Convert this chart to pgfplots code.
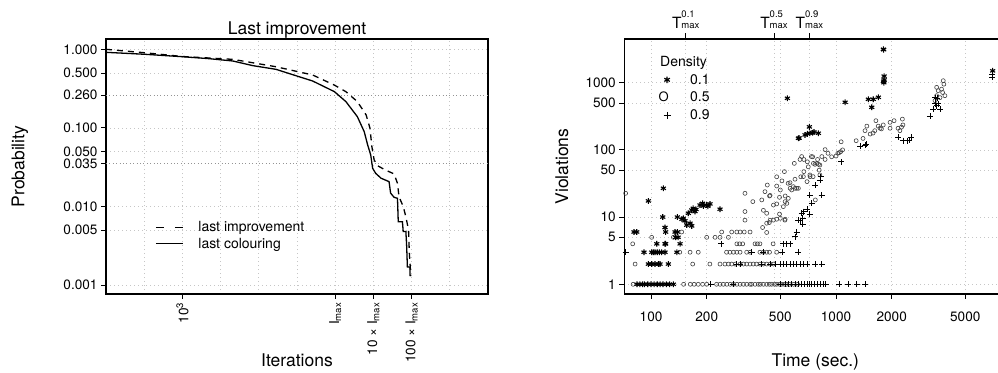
\documentclass[border=0pt]{standalone}
\usepackage{pgfplots}
\pgfplotsset{compat=1.18}
\usepackage{fontspec}
\setmainfont{TeX Gyre Heros}

\newcommand{\ticksize}{\fontsize{13.6}{15}\selectfont}
\newcommand{\labsize}{\fontsize{17.5}{20}\selectfont}
\newcommand{\legsize}{\fontsize{14}{16}\selectfont}
% T with its quantile stacked over the "max" index
\newcommand{\Tmax}[1]{{\fontsize{15.5}{16}\selectfont T}{\fontsize{9.5}{11}\selectfont\begin{tabular}[b]{@{}l@{}}#1\\max\end{tabular}}}

\tikzset{darkgrid/.style={gray!85, line width=0.8pt, dash pattern=on 0.8pt off 2.6pt}}

\pgfplotsset{
  panel/.style={
    scale only axis, width=382pt, height=255pt, anchor=south west,
    axis line style={line width=1.1pt},
    tick align=outside, major tick length=5pt,
    tick style={black, line width=0.8pt},
    tick label style={font=\ticksize},
    /pgf/number format/assume math mode=true,
    grid style={gray!45, line width=0.7pt, dash pattern=on 0.8pt off 3.2pt},
    every axis title/.style={at={(axis description cs:0.5,1.0184)}, anchor=base, font=\labsize},
    every axis x label/.style={at={(axis description cs:0.5,-0.2824)}, anchor=base, font=\labsize},
  },
}

\begin{document}
\begin{tikzpicture}
\useasboundingbox (0pt,0pt) rectangle (998pt,372pt);

% ---------------- left panel: survival of the last improvement ----------------
\begin{axis}[panel, tick pos=left,
  at={(106pt,78pt)},
  xmode=log, ymode=log,
  xmin=1e1, xmax=1e11, ymin=7.7e-4, ymax=1.352,
  xtick={1e3,1e7,1e8,1e9},
  xticklabels={10\textsuperscript{3}, I\textsubscript{max}, 10 × I\textsubscript{max}, 100 × I\textsubscript{max}},
  xticklabel style={rotate=90, anchor=east},
  minor xtick={1e2,1e4,1e5,1e6,1e10},
  minor tick length=0pt,
  xmajorgrids, xminorgrids, ymajorgrids,
  ytick={0.001,0.005,0.01,0.05,0.1,0.5,1},
  yticklabels={0.001,0.005,0.010,0.050,0.100,0.500,1.000},
  extra y ticks={0.035,0.26},
  extra y tick labels={0.035,0.260},
  extra y tick style={ymajorgrids=true, major grid style={darkgrid}},
  title={Last improvement},
  xlabel={Iterations},
  ylabel={Probability},
  every axis y label/.style={at={(axis description cs:-0.2134,0.5)}, rotate=90, anchor=base, font=\labsize},
  legend image code/.code={\draw[#1] (0pt,0pt) -- (27pt,0pt);},
  legend cell align=left,
  legend style={at={(axis description cs:0.1283,0.293)}, anchor=north west,
    draw=none, fill=none, inner sep=0pt, column sep=13pt, row sep=0.6pt,
    font=\legsize, cells={anchor=west}},
]
\addlegendimage{black, line width=1.2pt, dash pattern=on 8pt off 11pt}
\addlegendentry{last improvement}
\addlegendimage{black, line width=1.2pt}
\addlegendentry{last colouring}

% last improvement
\addplot[forget plot, black, line width=1.3pt, dash pattern=on 6pt off 5pt] coordinates {
  (1e1,1.0) (1e2,0.905) (1e3,0.81) (2.09e4,0.745) (2.82e5,0.60) (2.57e6,0.471)
  (9.55e6,0.35) (1.905e7,0.289) (3.80e7,0.216) (6.46e7,0.146) (8.13e7,0.099)
  (9.12e7,0.0577) (1.047e8,0.039) (1.288e8,0.033) (2.09e8,0.029) (3.47e8,0.026)
  (4.27e8,0.0197) (4.68e8,0.0133) (6.03e8,0.010) (7.08e8,0.0074) (8.32e8,0.005)
  (8.71e8,0.0026) (9.55e8,0.0013)
};
% last colouring
\addplot[forget plot, black, line width=1.3pt] coordinates {
  (1e1,0.915) (1e2,0.865) (1e3,0.805) (5.0e3,0.76) (2.09e4,0.71) (6.92e4,0.62)
  (2.82e5,0.556) (7.76e5,0.475) (2.57e6,0.395) (9.55e6,0.289) (1.905e7,0.216)
  (3.80e7,0.139) (5.75e7,0.0895) (7.08e7,0.0606) (8.51e7,0.0452) (9.55e7,0.0306)
  (1.148e8,0.0264) (1.585e8,0.0229) (2.57e8,0.0207) (2.82e8,0.0148) (3.47e8,0.0131)
  (4.27e8,0.0127) (4.47e8,0.0064) (5.75e8,0.0064) (6.03e8,0.0048) (7.08e8,0.0048)
  (7.41e8,0.0032) (7.76e8,0.0017) (9.12e8,0.0017) (9.12e8,0.0013)
};
\end{axis}

% ---------------- right panel: top axis with the time limits ----------------
\begin{axis}[panel,
  at={(624.3pt,78pt)},
  xmode=log, ymode=log,
  xmin=71.7, xmax=8330, ymin=0.717, ymax=4467,
  axis x line*=top, axis y line=none,
  xtick pos=right, xticklabel pos=right,
  xtick={154,462,718},
  xticklabels={\Tmax{0.1}, \Tmax{0.5}, \Tmax{0.9}},
  xticklabel style={anchor=south, inner sep=1pt},
  major tick length=6pt,
  xmajorgrids,
]
\addplot[draw=none, forget plot] coordinates {(100,1)};
\end{axis}

% ---------------- right panel: violations against time ----------------
\begin{axis}[panel, tick pos=left,
  at={(624.3pt,78pt)},
  xmode=log, ymode=log,
  xmin=71.7, xmax=8330, ymin=0.717, ymax=4467,
  xtick={100,200,500,1000,2000,5000},
  xticklabels={100,200,500,1000,2000,5000},
  xticklabel shift=9pt,
  ytick={1,5,10,50,100,500,1000},
  yticklabels={1,5,10,50,100,500,1000},
  grid=major,
  xlabel={Time (sec.)},
  ylabel={Violations},
  every axis y label/.style={at={(axis description cs:-0.1474,0.5)}, rotate=90, anchor=base, font=\labsize},
  legend cell align=left,
  legend style={at={(axis description cs:0.0896,0.871)}, anchor=north west,
    draw=none, fill=none, inner sep=0pt, column sep=17.5pt, row sep=2.4pt,
    font=\legsize},
]
\addlegendimage{only marks, black, mark=asterisk, mark size=3.2pt, line width=1.2pt}
\addlegendentry{0.1}
\addlegendimage{legend image code/.code={\node[inner sep=0pt, font=\fontsize{13}{13}\selectfont] at (0pt,0pt) {O};}}
\addlegendentry{0.5}
\addlegendimage{only marks, black, mark=+, mark size=3.5pt, line width=1pt}
\addlegendentry{0.9}

% density 0.5
\addplot[forget plot, only marks, mark=o, mark size=2pt, black!75, line width=0.6pt] coordinates {
  (80,1)(150,1)(163,1)(171,1)(180,1)(190,1)(200,1)(226,1)(236,1)(246,1)(257,1)(268,1)
  (279,1)(291,1)(303,1)(316,1)(329,1)(343,1)(350,1)(365,1)(380,1)(390,1)(405,1)(422,1)
  (436,1)(449,1)(465,1)(478,1)(495,1)(509,1)(525,1)(541,1)(560,1)(590,1)(620,1)
  (82,2)(168,2)(208,2)(236,2)(251,2)(262,2)(273,2)(285,2)(303,2)(316,2)(329,2)(343,2)
  (357,2)(372,2)(388,2)(405,2)(422,2)(440,2)(459,2)
  (143,3)(162.6,3)(180,3)(256,3)(267,3)(279,3)(291,3)(303,3)(329,3)(343,3)(388,3)
  (405,3)(422,3)(437,3)(478,3)
  (79.6,4)(291,4)(301,4)(313,4)(365,4)(376,4)(388,4)(457,4)
  (100.8,5)(132,5)(200,5)(222,5)(236,5)(262,5)
  (146.5,6)(241,6)(273,6)(291,6)(303,6)(319,6)(343,6)(422,5.9)
  (401,7)(422,8.1)(436,8.3)(440,9)(459,9)(478,9.3)(500,9.6)(531,9.3)(529,9)
  (322,9)(322,12.1)(405,12.6)(422,11.4)(495,11.1)(519,14.3)(478,15.7)(459,15.1)
  (531,17)(355,17)(397,18)(322,22.6)(413,23.9)(425,30)(478,29)(495,19.7)(510,34.6)
  (478,39.8)(526,47.5)(500,25.3)(531,20.6)(552,19)(564,32.5)(576,25.3)(595,63)
  (600,36.6)(626,26.8)(613,26.8)(600,26.8)(639,72)(645,39.8)(670,47.5)(670,72)
  (700,66.5)(722,42.4)(724,40)(748,79)(755,63)(770,61)(789,63)(795,72)(804,61)
  (818,59.5)(818,42.4)(811,50)(838,79.6)(873,72)(873,101)(905,89)(947,79)(1000,81)
  (1023,89)(1040,91)(1060,94)(1085,100)(1066,132)(773,18)(437,20.6)(440,21)(542,16)
  (72.9,22.6)(565,26.8)(708,56)(736,79.6)(652,79.6)(588,28.4)(551,31.8)(666,40)
  (697,33.7)(752,40)
  (1285,137)(1400,148)(1435,193)(1468,226)(1530,172)(1585,178)(1620,193)(1643,272)
  (1690,226)(1730,210)(1760,205)(1800,235)(1960,210)(1960,257)(2060,272)(2165,210)
  (2215,193)(2260,218)(2285,287)(2300,235)
  (3500,853)(3570,760)(3720,800)(3800,1070)(3830,950)(3880,640)(3650,600)(3500,640)
  (3430,540)(3770,715)
};
% density 0.9
\addplot[forget plot, only marks, mark=+, mark size=3pt, black, line width=0.75pt] coordinates {
  (210,1)(279,1)(500,1)(530,1)(550,1)(575,1)(600,1)(625,1)(650,1)(675,1)(700,1)(720,1)
  (740,1)(760,1)(790,1)(820,1)(850,1)(880,1)(1043,1)(1166,1)(1294,1)(1434,1)
  (291,2)(303,2)(397,2)(440,2)(468,2)(500,2)(518,2)(541,2)(564,2)(588,2)(613,2)(639,2)
  (670,2)(700,2)(773,2)(836,2)
  (73,3)(350,3)(405,3)(510,3)(626,3)
  (239,4)(518,4)(541,4)(564,4)
  (600,5.1)(613,5.9)
  (626,9)(639,8.8)(653,11.4)(660,9.6)(660,7.9)(670,12.1)(700,13.1)(722,11.1)(740,16)
  (722,21.3)(773,30)(818,35.7)(825,39.8)(836,21.3)(1070,66.5)
  (1350,113)(1435,118)(1455,122)
  (2165,154)(2300,137)(2440,137)(2545,154)(2480,140)
  (3220,316)(3360,405)(3430,485)(3500,455)(3650,405)(3430,600)(3530,585)(3570,485)
  (7000,1350)(7000,1200)
};
% density 0.1
\addplot[forget plot, only marks, mark=asterisk, mark size=2.9pt, black, line width=1.1pt] coordinates {
  (84,1)(87,1)(90,1)(92,1)(96,1)(100,1)(104,1)(108,1)(112,1)(116,1)(121,1)(126,1)(132,1)
  (96.7,2)(100.9,2)(105,2)(109.5,2)(111.8,2)(124,2)
  (91.6,3)(100.9,3)(103,3)(105,3)(108,3)(111,3)(114,3)(119,3)(138,3)
  (107.4,4)(119,4)(120,4)(143.5,4)
  (136,5)(140,5)
  (80.9,6)(83.7,6)(134.8,6)(138.7,6)(120,6)
  (119,7)
  (115.7,10)(138.7,10)
  (96.7,17.4)(116.6,26.8)
  (149.5,9.6)(152.6,8.8)(156,7.6)(162.6,8.1)(166,7.4)(159,11.4)(166,12.7)(169,13.5)
  (172.8,12.1)(184,15.1)(190,16)(191.8,14.6)(200,15.1)(208.3,15.7)(203,14.5)(236,13.1)
  (147,9.3)(175,13)
  (546,586)(1120,511)
  (626,149)(632,150)(680,167)(700,173)(718,220)(722,177)(748,180)(760,185)(803,177)
  (1496,566)(1590,566)(1694,606)(1560,430)
  (1803,3140)(1810,3100)(1820,1250)(1820,1100)(1815,1000)(1810,1050)
  (7030,1500)
};
\node[anchor=base west, font=\legsize, inner sep=0pt] at (axis description cs:0.0935,0.894) {Density};
\end{axis}
\end{tikzpicture}
\end{document}
